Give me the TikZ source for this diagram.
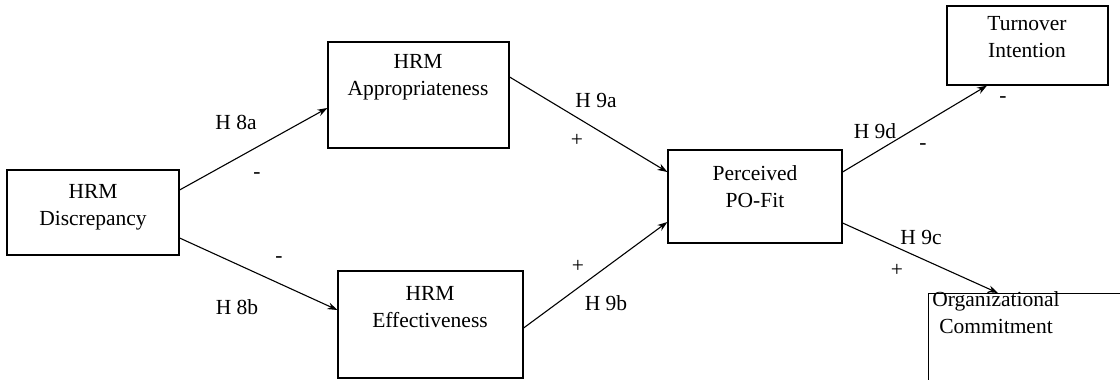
\documentclass[tikz,border=0pt]{standalone}
\usepackage{fontspec}
\setmainfont{Liberation Serif}
\usetikzlibrary{arrows.meta}
\begin{document}
\begin{tikzpicture}[x=1pt,y=-1pt,
  box/.style={draw=black, line width=1.2pt, rectangle, inner sep=0pt},
  boxtext/.style={align=center, font=\fontsize{21.5}{27}\selectfont, inner sep=0pt},
  lbl/.style={font=\fontsize{21.5}{27}\selectfont, inner sep=0pt},
  link/.style={line width=1.1pt, -{Stealth[length=10pt,width=7pt]}}]
\useasboundingbox (0,0) rectangle (1120,380);
\fill[white] (0,0) rectangle (1120,380);

% construct boxes
\begin{scope}
\clip (0,0) rectangle (1120,380);
\node[box, minimum width=172pt, minimum height=85pt]  (disc) at (93,212.5) {};
\node[box, minimum width=181pt, minimum height=106pt] (app)  at (418.5,95) {};
\node[box, minimum width=185pt, minimum height=107pt] (eff)  at (430.5,324.5) {};
\node[box, minimum width=174pt, minimum height=93pt]  (fit)  at (755,196.5) {};
\node[box, minimum width=161pt, minimum height=79pt]  (turn) at (1027.5,45.5) {};
\node[box, minimum width=230pt, minimum height=130pt, anchor=north west] (comm) at (928,293) {};
\end{scope}

% box captions
\node[boxtext] (discT) at (93,207)   {HRM\\Discrepancy};
\node[boxtext] (appT)  at (418,77)   {HRM\\Appropriateness};
\node[boxtext] (effT)  at (430,307)  {HRM\\Effectiveness};
\node[boxtext] (fitT)  at (755,187)  {Perceived\\PO-Fit};
\node[boxtext] (turnT) at (1027,37)  {Turnover\\Intention};
\node[boxtext] (commT) at (996,313)  {Organizational\\Commitment};

% hypothesised paths
\draw[link] ([yshift=22.5pt]disc.east) -- ([yshift=-13pt]app.west);
\draw[link] ([yshift=-25.5pt]disc.east) -- ([yshift=14.5pt]eff.west);
\draw[link] ([yshift=18pt]app.east) -- ([yshift=24.5pt]fit.west);
\draw[link] ([yshift=-3.5pt]eff.east) -- ([yshift=-25.5pt]fit.west);
\draw[link] ([yshift=24.5pt]fit.east) -- ([xshift=-40.5pt]turn.south);
\draw[link] ([yshift=-26.5pt]fit.east) -- ([xshift=70pt]comm.north west);

% path labels and signs
\node[lbl] (h8a) at (236,122) {H 8a};
\node[lbl] (s8a) at (257,176) {-};
\node[lbl] (s8b) at (279,260) {-};
\node[lbl] (h8b) at (237,307) {H 8b};
\node[lbl] (h9a) at (596,100) {H 9a};
\node[lbl] (s9a) at (577,140) {+};
\node[lbl] (s9b) at (578,266) {+};
\node[lbl] (h9b) at (606,303) {H 9b};
\node[lbl] (h9d) at (875,131) {H 9d};
\node[lbl] (s9d) at (923,147) {-};
\node[lbl] (s9e) at (1003,100) {-};
\node[lbl] (h9c) at (921,237) {H 9c};
\node[lbl] (s9c) at (897,270) {+};
\end{tikzpicture}
\end{document}
